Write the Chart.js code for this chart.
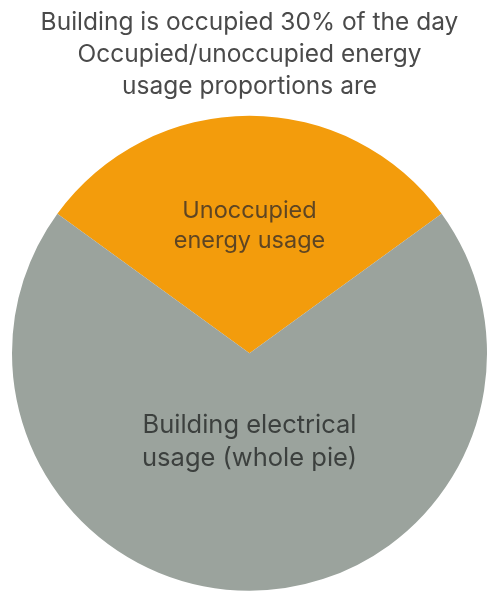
<!DOCTYPE html>
<html>
<head>
<meta charset="utf-8">
<script src="https://cdn.jsdelivr.net/npm/chart.js@4"></script>
<style>
  html, body { margin: 0; padding: 0; background: #ffffff; }
  #wrap { width: 487px; height: 592px; }
</style>
</head>
<body>
<div id="wrap"><canvas id="pieChart"></canvas></div>
<script>
const labels = ['Unoccupied energy usage', 'Building electrical usage (whole pie)'];
const values = [30, 70];
const labelLines = [['Unoccupied', 'energy usage'], ['Building electrical', 'usage (whole pie)']];
const titleLines = ['Building is occupied 30% of the day', 'Occupied/unoccupied energy', 'usage proportions are'];

// writes the slice text inside each arc
const sliceText = {
    id: 'sliceText',
    afterDatasetsDraw(chart, args, opts) {
        const ctx = chart.ctx;
        const meta = chart.getDatasetMeta(0);
        ctx.save();
        ctx.textAlign = 'center';
        ctx.textBaseline = 'middle';
        meta.data.forEach((arc, i) => {
            const mid = (arc.startAngle + arc.endAngle) / 2;
            const d = arc.outerRadius * opts.dist[i];
            const cx = arc.x + Math.cos(mid) * d;
            const cy = arc.y + Math.sin(mid) * d;
            const lines = labelLines[i];
            ctx.font = opts.fonts[i];
            ctx.fillStyle = opts.colors[i];
            lines.forEach((t, j) => {
                ctx.fillText(t, cx, cy + (j - (lines.length - 1) / 2) * opts.lineGap[i]);
            });
        });
        ctx.restore();
    }
};

new Chart(document.getElementById('pieChart'), {
    type: 'pie',
    data: {
        labels: labels,
        datasets: [{
            data: values,
            backgroundColor: ['#f39c0c', '#9ba39d'],
            borderWidth: 0
        }]
    },
    options: {
        responsive: true,
        maintainAspectRatio: false,
        animation: false,
        rotation: -54,
        layout: { padding: { left: 12, right: 0, top: 0, bottom: 1 } },
        plugins: {
            legend: { display: false },
            tooltip: { enabled: false },
            title: {
                display: true,
                text: titleLines,
                color: '#4a4a4a',
                font: { family: 'Inter', size: 24.5, weight: 'normal', lineHeight: 1.306 },
                padding: { top: 7, bottom: 12.5 }
            },
            sliceText: {
                fonts: ['23.5px Inter', '25.5px Inter'],
                colors: ['#5e4523', '#3c403e'],
                dist: [0.535, 0.372],
                lineGap: [30, 33]
            }
        }
    },
    plugins: [sliceText]
});
</script>
</body>
</html>
